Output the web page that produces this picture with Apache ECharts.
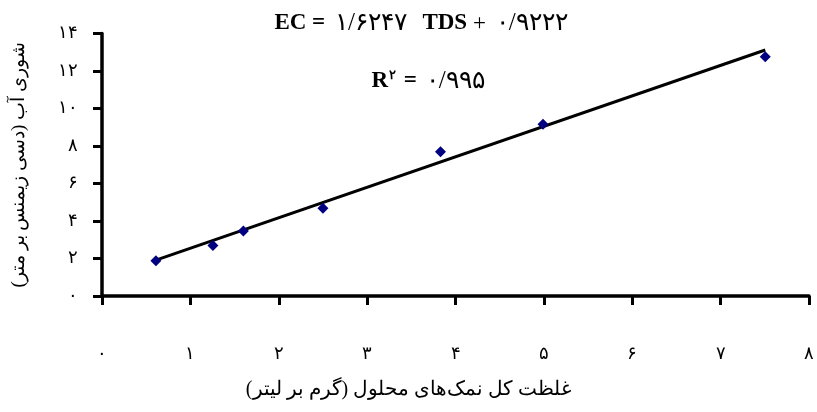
<!DOCTYPE html>
<html>
<head>
<meta charset="utf-8">
<script src="https://cdn.jsdelivr.net/npm/echarts@6/dist/echarts.min.js"></script>
<style>
html,body{margin:0;padding:0;background:#fff;}
#chart{width:817px;height:412px;}
</style>
</head>
<body>
<div id="chart"></div>
<script>
// Data
const tds = [0.61, 1.255, 1.6, 2.5, 3.83, 4.99, 7.505];
const ec = [1.88, 2.69, 3.47, 4.68, 7.70, 9.16, 12.76];
const trendX = [0.61, 7.505];
const trendY = [1.91, 13.12];
const xTickLabels = ['۰','۱','۲','۳','۴','۵','۶','۷','۸'];
const yTickLabels = ['۰','۲','۴','۶','۸','۱۰','۱۲','۱۴'];
const xName = 'غلظت کل نمک‌های محلول (گرم بر لیتر)';
const yName = 'شوری آب (دسی زیمنس بر متر)';

const RLM = '\u200F';
const serif = '"Liberation Serif", "Times New Roman", serif';

const chart = echarts.init(document.getElementById('chart'), null, {renderer: 'canvas'});
chart.setOption({
  animation: false,
  backgroundColor: '#ffffff',
  grid: {left: 102, right: 5.5, top: 33.5, bottom: 116, containLabel: false},
  title: [{
    text: '{b|EC = }{n|۱/۶۲۴۷}{b|  TDS }{p|+ }{n|۰/۹۲۲۲}',
    left: 418, top: 6, textAlign: 'center',
    textStyle: {
      rich: {
        b: {fontFamily: serif, fontWeight: 'bold', fontSize: 23, color: '#000'},
        p: {fontFamily: serif, fontWeight: 'normal', fontSize: 23, color: '#000'},
        n: {fontFamily: serif, fontWeight: 'normal', fontSize: 25, color: '#000', padding: [0, 4, 0, 4]}
      }
    }
  }, {
    text: '{b|R}{s|۲}{b| = }{n|۰/۹۹۵}',
    left: 424, top: 64, textAlign: 'center',
    textStyle: {
      rich: {
        b: {fontFamily: serif, fontWeight: 'bold', fontSize: 23, color: '#000'},
        s: {fontFamily: serif, fontSize: 13, color: '#000', verticalAlign: 'top', padding: [0,2,12,1]},
        n: {fontFamily: serif, fontWeight: 'normal', fontSize: 25, color: '#000', padding: [0, 2, 0, 3]}
      }
    }
  }],
  graphic: [{
    type: 'text',
    left: 'center', top: 380,
    style: {text: RLM + xName + RLM, fontFamily: serif, fontSize: 20, fill: '#000', x: 5}
  }],
  xAxis: {
    type: 'value', min: 0, max: 8, interval: 1,
    splitLine: {show: false},
    axisLine: {onZero: false, lineStyle: {color: '#000', width: 3.5}},
    axisTick: {length: 9, lineStyle: {color: '#000', width: 3}},
    axisLabel: {
      margin: 49, fontFamily: serif, fontSize: 18, color: '#000',
      formatter: v => xTickLabels[Math.round(v)]
    }
  },
  yAxis: {
    type: 'value', min: 0, max: 14, interval: 2,
    splitLine: {show: false},
    axisLine: {onZero: false, lineStyle: {color: '#000', width: 3.5}},
    axisTick: {length: 9, lineStyle: {color: '#000', width: 3}},
    axisLabel: {
      margin: 24, fontFamily: serif, fontSize: 18, color: '#000',
      formatter: v => yTickLabels[Math.round(v / 2)]
    },
    name: RLM + yName + RLM,
    nameLocation: 'middle', nameGap: 73, nameRotate: 90,
    nameTextStyle: {fontFamily: serif, fontSize: 19, color: '#000'}
  },
  series: [{
    type: 'line',
    data: trendX.map((x, i) => [x, trendY[i]]),
    showSymbol: false, symbol: 'none',
    lineStyle: {color: '#000', width: 3},
    z: 2, silent: true
  }, {
    type: 'scatter',
    data: tds.map((x, i) => [x, ec[i]]),
    symbol: 'diamond', symbolSize: [11, 11],
    itemStyle: {color: '#000080', opacity: 1},
    z: 3
  }]
});
</script>
</body>
</html>
